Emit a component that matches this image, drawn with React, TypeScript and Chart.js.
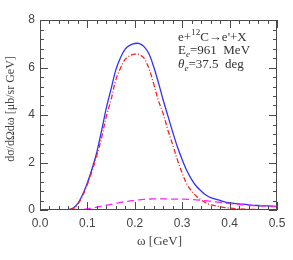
import React, { useEffect, useRef } from "react";
import { Chart, registerables } from "chart.js";

Chart.register(...registerables);

const omega = [0, 0.02, 0.04, 0.05, 0.06, 0.07, 0.08, 0.09, 0.1, 0.11, 0.12, 0.13, 0.14, 0.15, 0.16, 0.17, 0.18, 0.19, 0.2, 0.21, 0.22, 0.23, 0.24, 0.25, 0.26, 0.27, 0.28, 0.29, 0.3, 0.31, 0.32, 0.33, 0.34, 0.35, 0.36, 0.38, 0.4, 0.42, 0.44, 0.46, 0.48, 0.5];

const totalXS = [0, 0, 0, 0, 0.02, 0.08, 0.28, 0.65, 1.15, 1.75, 2.45, 3.35, 4.3, 5.1, 5.9, 6.42, 6.78, 6.94, 7.01, 7.01, 6.87, 6.57, 6.02, 5.35, 4.62, 3.95, 3.28, 2.65, 2.12, 1.65, 1.28, 1.0, 0.8, 0.63, 0.52, 0.4, 0.3, 0.26, 0.22, 0.19, 0.17, 0.15];

const qeXS = [0, 0, 0, 0, 0.01, 0.06, 0.25, 0.6, 1.08, 1.65, 2.3, 3.05, 3.95, 4.65, 5.48, 5.98, 6.35, 6.5, 6.56, 6.54, 6.38, 5.95, 5.3, 4.6, 4.05, 3.35, 2.75, 2.1, 1.55, 1.08, 0.8, 0.58, 0.42, 0.3, 0.22, 0.14, 0.08, 0.05, 0.03, 0.02, 0.01, 0.01];

const inelXS = [0, 0, 0, 0, 0, 0, 0, 0.02, 0.05, 0.08, 0.12, 0.16, 0.2, 0.24, 0.28, 0.32, 0.35, 0.38, 0.41, 0.43, 0.45, 0.46, 0.47, 0.47, 0.47, 0.465, 0.46, 0.46, 0.46, 0.45, 0.44, 0.425, 0.41, 0.39, 0.37, 0.32, 0.27, 0.23, 0.2, 0.18, 0.16, 0.14];

const xTicks = [0, 0.1, 0.2, 0.3, 0.4, 0.5];
const yTicks = [0, 2, 4, 6, 8];
const xMinorTicks = [0, 0.02, 0.04, 0.06, 0.08, 0.1, 0.12, 0.14, 0.16, 0.18, 0.2, 0.22, 0.24, 0.26, 0.28, 0.3, 0.32, 0.34, 0.36, 0.38, 0.4, 0.42, 0.44, 0.46, 0.48, 0.5];
const yMinorTicks = [0, 0.4, 0.8, 1.2, 1.6, 2, 2.4, 2.8, 3.2, 3.6, 4, 4.4, 4.8, 5.2, 5.6, 6, 6.4, 6.8, 7.2, 7.6, 8];

const toPts = (ys: number[]) => omega.map((x, i) => ({ x, y: ys[i] }));
const isMajor = (list: number[], v: number) => list.some((m) => Math.abs(m - v) < 1e-6);

const FRAME = "#4a4a4a";
const TEXT = "#444";

type Part = [string, "n" | "sup" | "sub" | "it"];

function drawRich(ctx: CanvasRenderingContext2D, parts: Part[], x: number, y: number, size: number) {
  let cx = x;
  for (const [t, k] of parts) {
    let fs = size;
    let dy = 0;
    let style = "";
    if (k === "sup") { fs = size * 0.7; dy = -size * 0.38; }
    if (k === "sub") { fs = size * 0.7; dy = size * 0.25; style = "italic "; }
    if (k === "it") { style = "italic "; }
    ctx.font = `${style}${fs}px "Liberation Serif", serif`;
    ctx.fillText(t, cx, y + dy);
    cx += ctx.measureText(t).width;
  }
}

const framePlugin = {
  id: "framePlugin",
  afterDraw(chart: any) {
    const ctx: CanvasRenderingContext2D = chart.ctx;
    const a = chart.chartArea;
    const xs = chart.scales.x;
    const ys = chart.scales.y;
    const L = Math.round(a.left);
    const R = Math.round(a.right);
    const T = Math.round(a.top);
    const B = Math.round(a.bottom);
    ctx.save();
    ctx.setLineDash([]);
    ctx.fillStyle = FRAME;
    ctx.fillRect(L, T, R - L, 1);
    ctx.fillRect(L, B - 1, R - L, 1);
    ctx.fillRect(L, T, 1, B - T);
    ctx.fillRect(R - 1, T, 1, B - T);
    xMinorTicks.forEach((v) => {
      const px = Math.round(xs.getPixelForValue(v));
      const len = isMajor(xTicks, v) ? 8 : 4;
      ctx.fillRect(px, B - len, 1, len);
      ctx.fillRect(px, T, 1, len);
    });
    yMinorTicks.forEach((v) => {
      const py = Math.round(ys.getPixelForValue(v));
      const len = isMajor(yTicks, v) ? 8 : 4;
      ctx.fillRect(L, py, len, 1);
      ctx.fillRect(R - len, py, len, 1);
    });

    ctx.fillStyle = TEXT;
    ctx.textBaseline = "middle";
    ctx.textAlign = "center";
    ctx.font = `13px "Liberation Serif", serif`;
    ctx.fillText("ω [GeV]", (a.left + a.right) / 2 + 1, 242);

    ctx.save();
    ctx.translate(11, (a.top + a.bottom) / 2 - 6);
    ctx.rotate(-Math.PI / 2);
    ctx.font = `12px "Liberation Serif", serif`;
    ctx.fillText("dσ/dΩdω [μb/sr GeV]", 0, 0);
    ctx.restore();

    ctx.textAlign = "left";
    ctx.fillStyle = "#333";
    drawRich(ctx, [["e+", "n"], ["12", "sup"], ["C→e'+X", "n"]], 178, 38, 13);
    drawRich(ctx, [["E", "n"], ["e", "sub"], ["=961  MeV", "n"]], 178, 51, 13);
    drawRich(ctx, [["θ", "it"], ["e", "sub"], ["=37.5  deg", "n"]], 178, 65, 13);
    ctx.restore();
  },
};

export default function App() {
  const ref = useRef<HTMLCanvasElement>(null);
  useEffect(() => {
    document.body.style.margin = "0";
    const chart = new Chart(ref.current!, {
      type: "line",
      data: {
        datasets: [
          { data: toPts(inelXS), borderColor: "#ff22ff", borderWidth: 1.3, borderDash: [7, 4], pointRadius: 0, tension: 0.35, fill: false },
          { data: toPts(qeXS), borderColor: "#ff2020", borderWidth: 1.3, borderDash: [5, 2, 1, 2], pointRadius: 0, tension: 0.35, fill: false },
          { data: toPts(totalXS), borderColor: "#3030ff", borderWidth: 1.3, pointRadius: 0, tension: 0.35, fill: false },
        ],
      },
      options: {
        animation: false,
        responsive: false,
        events: [],
        layout: { padding: { top: 20, right: 16, left: 0, bottom: 0 } },
        plugins: { legend: { display: false }, tooltip: { enabled: false } },
        scales: {
          x: {
            type: "linear",
            min: 0,
            max: 0.5,
            afterFit: (s: any) => { s.height = 50; },
            afterBuildTicks: (s: any) => { s.ticks = xTicks.map((v) => ({ value: v })); },
            grid: { display: false, drawTicks: false },
            border: { display: false },
            ticks: {
              padding: 6,
              autoSkip: false,
              color: TEXT,
              font: { family: '"Liberation Sans", sans-serif', size: 12 },
              callback: (v: any) => Number(v).toFixed(1),
              maxRotation: 0,
            },
          },
          y: {
            type: "linear",
            min: 0,
            max: 8,
            afterFit: (s: any) => { s.width = 40; },
            afterBuildTicks: (s: any) => { s.ticks = yTicks.map((v) => ({ value: v })); },
            grid: { display: false, drawTicks: false },
            border: { display: false },
            ticks: {
              padding: 5,
              autoSkip: false,
              color: TEXT,
              font: { family: '"Liberation Sans", sans-serif', size: 12 },
              callback: (v: any) => String(Math.round(Number(v))),
            },
          },
        },
      },
      plugins: [framePlugin],
    } as any);
    return () => chart.destroy();
  }, []);
  return (
    <div style={{ width: 293, height: 260 }}>
      <canvas ref={ref} width={293} height={260} />
    </div>
  );
}
